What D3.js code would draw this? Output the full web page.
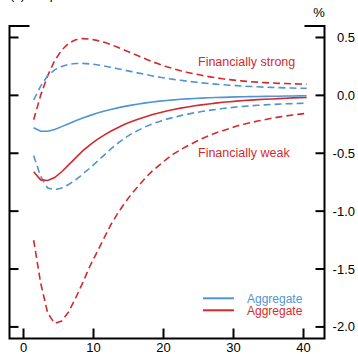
<!DOCTYPE html>
<html>
<head>
<meta charset="utf-8">
<script src="https://cdn.jsdelivr.net/npm/d3@7"></script>
<style>
  body { margin: 0; background: #fff; }
  text { font-family: "Liberation Sans", Arial, sans-serif; }
</style>
</head>
<body>
<script>
// horizons 1..40
const horizon = d3.range(1, 41);

// blue: aggregate and financially strong / weak bands
const blueMid = [-0.28, -0.31, -0.31, -0.295, -0.27, -0.245, -0.22, -0.195, -0.175, -0.155,
  -0.138, -0.122, -0.108, -0.095, -0.084, -0.074, -0.065, -0.057, -0.05, -0.044,
  -0.039, -0.034, -0.03, -0.027, -0.024, -0.021, -0.019, -0.017, -0.015, -0.013,
  -0.012, -0.011, -0.01, -0.009, -0.008, -0.007, -0.006, -0.005, -0.004, -0.003];
const blueHigh = [-0.04, 0.08, 0.17, 0.22, 0.25, 0.268, 0.275, 0.276, 0.272, 0.265,
  0.255, 0.243, 0.23, 0.218, 0.205, 0.192, 0.18, 0.168, 0.157, 0.147,
  0.138, 0.13, 0.122, 0.115, 0.108, 0.102, 0.097, 0.092, 0.088, 0.084,
  0.08, 0.077, 0.074, 0.071, 0.069, 0.067, 0.065, 0.063, 0.061, 0.06];
const blueLow = [-0.52, -0.7, -0.8, -0.815, -0.8, -0.77, -0.73, -0.68, -0.63, -0.575,
  -0.52, -0.465, -0.415, -0.37, -0.33, -0.3, -0.27, -0.245, -0.225, -0.205,
  -0.19, -0.175, -0.162, -0.15, -0.14, -0.13, -0.122, -0.114, -0.107, -0.1,
  -0.095, -0.09, -0.086, -0.082, -0.079, -0.076, -0.073, -0.071, -0.069, -0.067];

// red
const redMid = [-0.66, -0.73, -0.735, -0.71, -0.66, -0.6, -0.54, -0.48, -0.43, -0.385,
  -0.345, -0.31, -0.28, -0.25, -0.225, -0.205, -0.185, -0.165, -0.15, -0.135,
  -0.122, -0.11, -0.1, -0.09, -0.082, -0.074, -0.067, -0.06, -0.055, -0.05,
  -0.045, -0.041, -0.037, -0.034, -0.031, -0.028, -0.025, -0.022, -0.02, -0.018];
const redHigh = [-0.21, 0.0, 0.17, 0.3, 0.39, 0.45, 0.48, 0.49, 0.487, 0.475,
  0.46, 0.44, 0.415, 0.39, 0.365, 0.34, 0.315, 0.29, 0.268, 0.248,
  0.23, 0.213, 0.198, 0.185, 0.173, 0.162, 0.152, 0.143, 0.136, 0.129,
  0.123, 0.118, 0.114, 0.11, 0.107, 0.104, 0.102, 0.1, 0.098, 0.096];
const redLow = [-1.25, -1.62, -1.88, -1.97, -1.95, -1.87, -1.75, -1.62, -1.48, -1.36,
  -1.24, -1.12, -1.02, -0.93, -0.85, -0.78, -0.71, -0.65, -0.6, -0.55,
  -0.505, -0.47, -0.435, -0.405, -0.375, -0.35, -0.325, -0.305, -0.285, -0.265,
  -0.25, -0.235, -0.222, -0.21, -0.198, -0.188, -0.178, -0.17, -0.162, -0.155];

const xTicks = [0, 10, 20, 30, 40];
const yTicks = [0.5, 0.0, -0.5, -1.0, -1.5, -2.0];

const blue = '#4f95d4';
const red = '#d42a2e';

const width = 358, height = 354;
const svg = d3.select('body').append('svg')
    .attr('width', width)
    .attr('height', height);

const x = d3.scaleLinear().domain([-2, 43]).range([9.5, 324.5]);
const y = d3.scaleLinear().domain([-2.1, 0.6]).range([338.5, 25.9]);

// cropped panel title
svg.append('text')
    .attr('x', 10).attr('y', -1)
    .attr('font-size', 13)
    .text('(c) Output');

// frame
const frame = svg.append('g').attr('stroke', '#000').attr('stroke-width', 2).attr('fill', 'none');
frame.append('path').attr('d', `M${x.range()[0] + 20},${y(0.6)}H${x.range()[0]}V${y(-2.1)}H${x.range()[1]}V${y(0.6)}H${x.range()[1] - 20}`);

// y ticks on both sides
yTicks.forEach(v => {
  frame.append('line').attr('x1', x.range()[0]).attr('x2', x.range()[0] + 9).attr('y1', y(v)).attr('y2', y(v));
  frame.append('line').attr('x1', x.range()[1]).attr('x2', x.range()[1] - 9).attr('y1', y(v)).attr('y2', y(v));
});
xTicks.forEach(t => {
  frame.append('line').attr('x1', x(t)).attr('x2', x(t)).attr('y1', y(-2.1)).attr('y2', y(-2.1) - 10);
});

svg.selectAll('.ylab')
    .data(yTicks)
    .enter()
  .append('text')
    .attr('x', 355)
    .attr('y', d => y(d))
    .attr('dy', '0.35em')
    .attr('text-anchor', 'end')
    .attr('font-size', 13)
    .text(d => d3.format('.1f')(d).replace('−', '-'));

svg.selectAll('.xlab')
    .data(xTicks)
    .enter()
  .append('text')
    .attr('x', d => x(d))
    .attr('y', 352)
    .attr('text-anchor', 'middle')
    .attr('font-size', 13)
    .text(d => d);

svg.append('text')
    .attr('x', 319).attr('y', 17)
    .attr('text-anchor', 'middle')
    .attr('font-size', 13)
    .text('%');

// lines (points sit half a period to the right of the tick)
const line = d3.line()
    .x((d, i) => x(horizon[i] + 0.45))
    .y(d => y(d));

const series = [
  {vals: redLow, color: red, dash: '7,4'},
  {vals: redHigh, color: red, dash: '7,4'},
  {vals: blueLow, color: blue, dash: '7,4'},
  {vals: blueHigh, color: blue, dash: '7,4'},
  {vals: blueMid, color: blue, dash: null},
  {vals: redMid, color: red, dash: null}
];

svg.selectAll('.series')
    .data(series)
    .enter()
  .append('path')
    .attr('fill', 'none')
    .attr('stroke', d => d.color)
    .attr('stroke-width', 1.6)
    .attr('stroke-dasharray', d => d.dash)
    .attr('d', d => line(d.vals));

svg.append('text')
    .attr('x', 198).attr('y', 66)
    .attr('font-size', 12.5).attr('fill', red)
    .text('Financially strong');
svg.append('text')
    .attr('x', 198).attr('y', 157)
    .attr('font-size', 12.5).attr('fill', red)
    .text('Financially weak');

// legend
const legend = [{label: 'Aggregate', color: blue}, {label: 'Aggregate', color: red}];
const lg = svg.selectAll('.lg')
    .data(legend)
    .enter()
  .append('g')
    .attr('transform', (d, i) => `translate(203,${298.3 + i * 12})`);
lg.append('line')
    .attr('x1', 0).attr('x2', 31)
    .attr('stroke', d => d.color)
    .attr('stroke-width', 2);
lg.append('text')
    .attr('x', 44).attr('y', 4.2)
    .attr('font-size', 12)
    .attr('fill', d => d.color)
    .text(d => d.label);
</script>
</body>
</html>
